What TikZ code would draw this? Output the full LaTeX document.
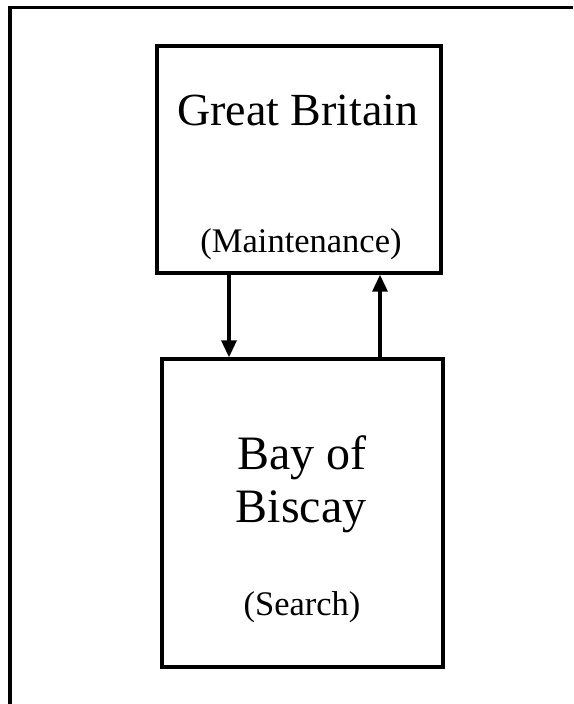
\documentclass[tikz,border=0pt]{standalone}
\usepackage{fontspec}
\setmainfont{Liberation Serif}
\usetikzlibrary{arrows.meta}

\tikzset{
	region/.style={draw, line width=3.4pt, rectangle, inner sep=0pt},
	flow/.style={line width=3.4pt, -{Triangle[length=17pt,width=15pt]}},
	bigname/.style={anchor=base, font=\fontsize{46}{54}\selectfont},
	baseyname/.style={anchor=base, font=\fontsize{48}{54}\selectfont},
	smallname/.style={anchor=base, font=\fontsize{34.5}{40}\selectfont}
}

\begin{document}
\begin{tikzpicture}[x=1pt,y=-1pt]
		\useasboundingbox (0,0) rectangle (573,704);

		% Frame
		\draw[line width=3.2pt] (10,704) -- (10,7.5) -- (573,7.5);

		% Boxes
		\node[region, minimum width=284pt, minimum height=227pt] (gb) at (299,159.5) {};
		\node[region, minimum width=281pt, minimum height=308pt] (bob) at (302.5,513) {};

		% Labels
		\node[bigname] (gbname) at (298,125) {Great Britain};
		\node[smallname] (gbrole) at (301,252) {(Maintenance)};
		\node[baseyname] (bay) at (302,469) {Bay of};
		\node[baseyname] (biscay) at (301,522) {Biscay};
		\node[smallname] (bobrole) at (302,615) {(Search)};

		% Arrows
		\coordinate (down) at (229,0);
		\coordinate (up) at (380,0);
		\draw[flow] (gb.south -| down) -- (bob.north -| down);
		\draw[flow] (bob.north -| up) -- (gb.south -| up);
	\end{tikzpicture}
\end{document}
